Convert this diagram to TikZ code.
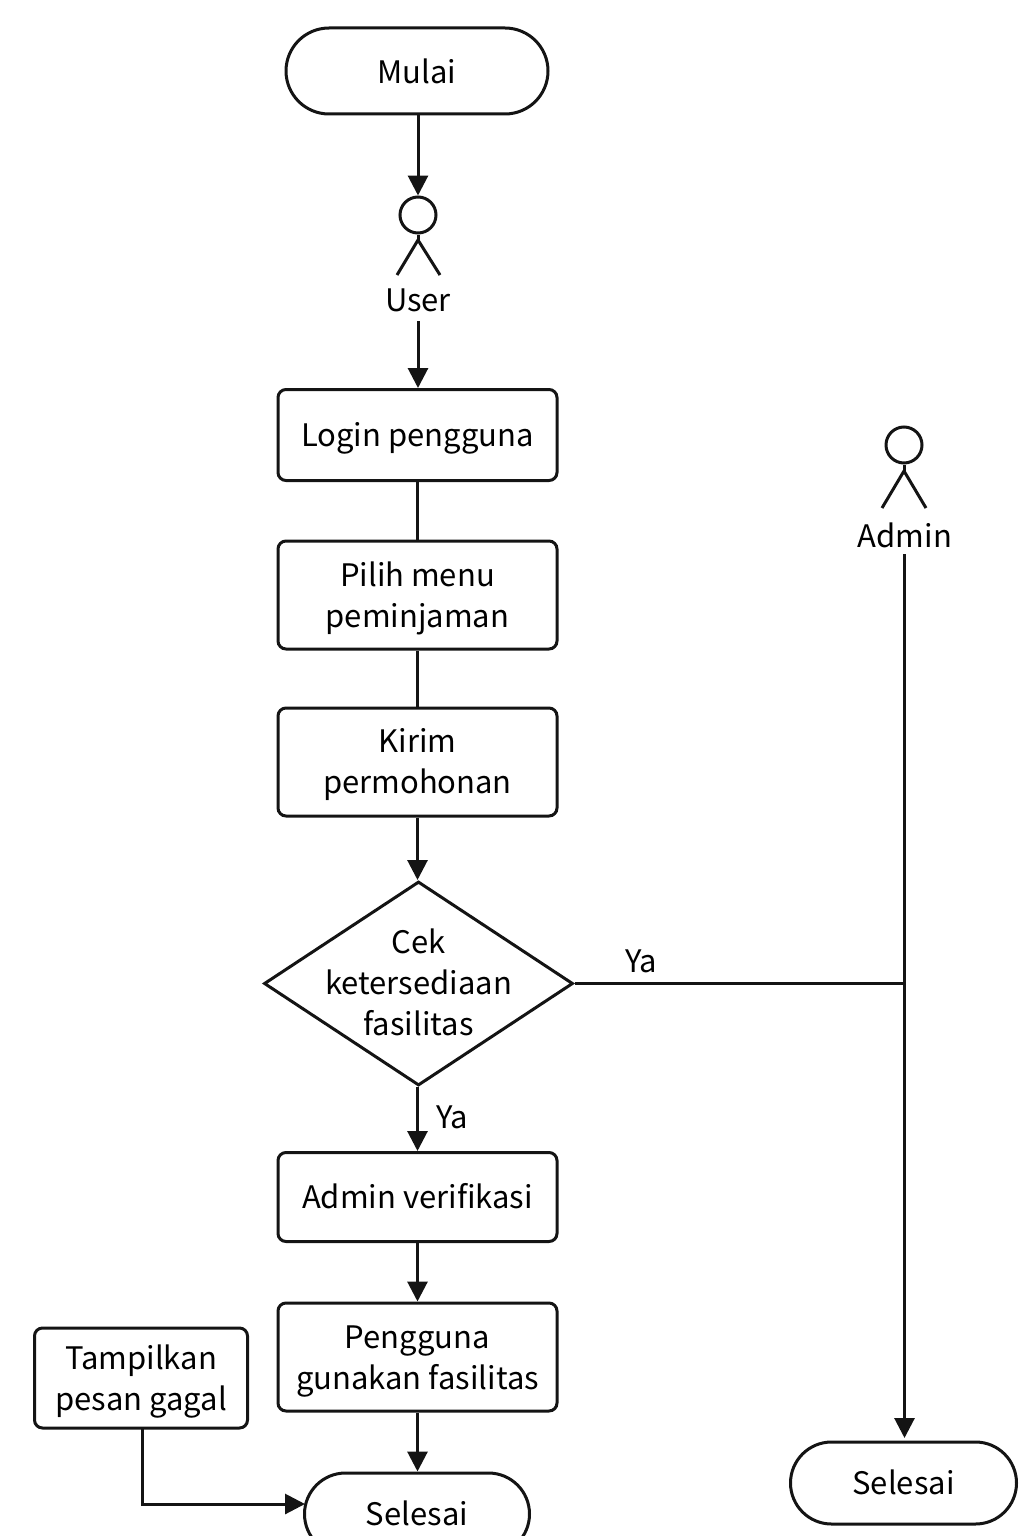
\documentclass[tikz,border=0pt]{standalone}
\usepackage{fontspec}
\setmainfont{Noto Sans CJK SC}
\usetikzlibrary{shapes.geometric,arrows.meta}
\newcommand\mlines[2]{\raisebox{#1}[0pt][0pt]{\begin{tabular}[t]{@{}c@{}}#2\end{tabular}}}
\begin{document}
\begin{tikzpicture}[x=1pt,y=-1pt,
  every node/.style={font=\fontsize{31}{41}\selectfont,text=black,align=center,inner sep=0pt},
  txt/.style={execute at begin node={\rule{0pt}{30pt}},execute at end node={\rule[-8pt]{0pt}{8pt}}},
  ln/.style={line width=3pt,draw=black!92},
  arr/.style={ln,-{Stealth[length=20pt,width=20pt,inset=0pt]}},
  boxn/.style={ln,rectangle,rounded corners=8pt,minimum width=279pt},
  term/.style={ln,rectangle},
  head/.style={ln,circle,minimum size=36pt},
]
\useasboundingbox (0,0) rectangle (1024,1536);
\clip (0,0) rectangle (1024,1536);
\node[term,execute at begin node={\rule{0pt}{34pt}},execute at end node={\rule[-8pt]{0pt}{8pt}},rounded corners=43pt,minimum width=262pt,minimum height=86pt] (mulai) at (417,71) {Mulai};
\node[head] (uhead) at (418,215) {};
\coordinate (uhip) at (418,240);
\coordinate (ulegl) at (397,275);
\coordinate (ulegr) at (440,275);
\draw[ln] (uhead.south) -- (uhip);
\draw[ln] (ulegl) -- (uhip) -- (ulegr);
\node[txt] (user) at (418,300) {User};
\coordinate (uout) at (418,321);
\node[boxn,txt,minimum height=91pt] (login) at (417.5,435) {Login pengguna};
\node[boxn,minimum height=108pt] (pilih) at (417.5,595) {\mlines{9pt}{Pilih menu\\peminjaman}};
\node[boxn,minimum height=108pt] (kirim) at (417.5,762) {\mlines{10pt}{Kirim\\permohonan}};
\node[ln,diamond,minimum width=309pt,minimum height=204pt,shape aspect=1.51] (cek) at (418.5,983.5) {};
\node (cektext) at (cek.center) {\mlines{30.5pt}{Cek\\ketersediaan\\fasilitas}};
\node[boxn,txt,minimum height=89pt] (verif) at (417.5,1197) {Admin verifikasi};
\node[boxn,minimum height=108pt] (guna) at (417.5,1357) {\mlines{9pt}{Pengguna\\gunakan fasilitas}};
\node[ln,rectangle,rounded corners=8pt,minimum width=213pt,minimum height=100pt] (gagal) at (141,1378) {\mlines{9pt}{Tampilkan\\pesan gagal}};
\node[term,txt,minimum width=225pt,minimum height=82pt,rounded corners=41pt] (sel1) at (417,1514) {Selesai};
\node[term,txt,minimum width=226pt,minimum height=82pt,rounded corners=41pt] (sel2) at (903.5,1483) {Selesai};
\node[head] (ahead) at (904,445) {};
\coordinate (ahip) at (904,471);
\coordinate (alegl) at (882,508);
\coordinate (alegr) at (926,508);
\draw[ln] (ahead.south) -- (ahip);
\draw[ln] (alegl) -- (ahip) -- (alegr);
\node[txt] (admin) at (905,536) {Admin};
\coordinate (aout) at (904.5,554);
\coordinate (aend) at (904.5,1438);
\coordinate (gin) at (305,1504);
\coordinate (gout) at (142,1428);
\draw[arr] (mulai.south -| uhead) -- (uhead.north);
\draw[arr] (uout) -- (uout |- login.north);
\draw[ln] (login.south) -- (pilih.north);
\draw[ln] (pilih.south) -- (kirim.north);
\draw[arr] (kirim.south) -- (kirim.south |- cek.north);
\draw[arr] (kirim.south |- cek.south) -- (kirim.south |- verif.north);
\draw[arr] (verif.south) -- (guna.north);
\draw[arr] (guna.south) -- (guna.south |- sel1.north);
\draw[arr] (gout) |- (gin);
\draw[ln] (cek.east) -- (cek.east -| aout);
\draw[arr] (aout) -- (aend);
\node[txt] (ya1) at (641,961) {Ya};
\node[txt] (ya2) at (452,1117) {Ya};
\end{tikzpicture}
\end{document}
